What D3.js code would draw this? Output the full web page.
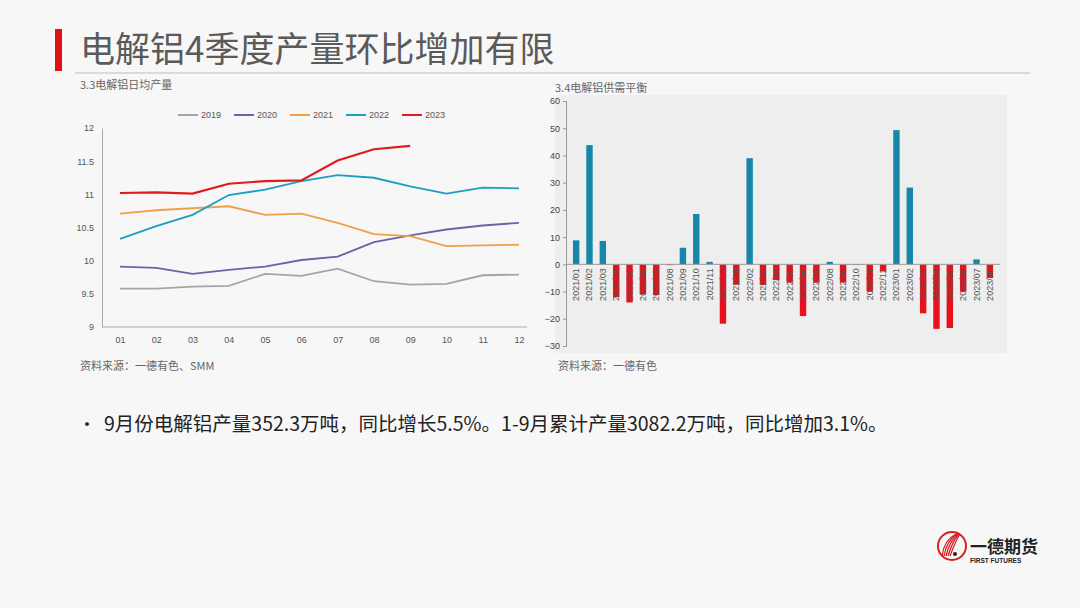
<!DOCTYPE html><html><head><meta charset="utf-8">
<script src="https://cdn.jsdelivr.net/npm/d3@7"></script>
<style>body{margin:0;background:#f7f7f7}svg{display:block;font-family:"Noto Sans CJK SC","Microsoft YaHei",sans-serif}</style></head><body>
<svg id="c" width="1080" height="608"></svg>
<script>
const months=["01","02","03","04","05","06","07","08","09","10","11","12"];
const years=["2019","2020","2021","2022","2023"];
const lineColors=["#a5a5a5","#7060a8","#f0a04b","#1b9ec0","#e01a20"];
const y2019=[9.58,9.58,9.61,9.62,9.80,9.77,9.88,9.69,9.64,9.65,9.78,9.79];
const y2020=[9.91,9.89,9.80,9.86,9.91,10.01,10.06,10.28,10.38,10.47,10.53,10.57];
const y2021=[10.71,10.76,10.79,10.82,10.69,10.71,10.57,10.40,10.37,10.22,10.23,10.24];
const y2022=[10.33,10.52,10.69,10.99,11.07,11.20,11.29,11.25,11.12,11.01,11.10,11.09];
const y2023=[11.02,11.03,11.01,11.16,11.20,11.21,11.51,11.68,11.73];
const lineTicks=[9,9.5,10,10.5,11,11.5,12];
const barCats=["2021/01","2021/02","2021/03","2021/04","2021/05","2021/06","2021/07","2021/08","2021/09","2021/10","2021/11","2021/12",
"2022/01","2022/02","2022/03","2022/04","2022/05","2022/06","2022/07","2022/08","2022/09","2022/10","2022/11","2022/12",
"2023/01","2023/02","2023/03","2023/04","2023/05","2023/06","2023/07","2023/08"];
const barVals=[8.8,43.8,8.6,-12,-14,-11,-11.3,-0.3,6.1,18.5,0.9,-21.8,-7.5,39,-7.6,-5.8,-6.7,-19,-6.7,0.9,-6.7,-0.2,-10,-2.6,49.3,28.2,-18,-23.7,-23.4,-10,1.8,-5];
const barTicks=[-30,-20,-10,0,10,20,30,40,50,60];

const svg=d3.select("#c");
svg.append("rect").attr("x",55).attr("y",29).attr("width",7).attr("height",42).attr("fill","#e0101a");
svg.append("text").attr("x",80).attr("y",62).attr("font-size",35).attr("fill","#5a5a5a").text("电解铝4季度产量环比增加有限");
svg.append("line").attr("x1",75).attr("x2",1030).attr("y1",73).attr("y2",73).attr("stroke","#d0d0d0").attr("stroke-width",1.5);
svg.append("text").attr("x",80).attr("y",89).attr("font-size",11).attr("fill","#666").text("3.3电解铝日均产量");
svg.append("text").attr("x",555).attr("y",92).attr("font-size",11).attr("fill","#666").text("3.4电解铝供需平衡");
svg.append("text").attr("x",80).attr("y",370).attr("font-size",11).attr("fill","#666").text("资料来源：一德有色、SMM");
svg.append("text").attr("x",558).attr("y",370).attr("font-size",11).attr("fill","#666").text("资料来源：一德有色");
svg.append("text").attr("x",78).attr("y",431).attr("font-size",18).attr("fill","#222").text("•");
svg.append("text").attr("x",104).attr("y",431).attr("font-size",19.5).attr("fill","#222").text("9月份电解铝产量352.3万吨，同比增长5.5%。1-9月累计产量3082.2万吨，同比增加3.1%。");

const x=d3.scalePoint().domain(months).range([120,519]);
const y=d3.scaleLinear().domain([9,12]).range([327,128]);
const g=svg.append("g");
g.append("g").attr("transform","translate(0,327)").call(d3.axisBottom(x).tickSize(0).tickPadding(10)).call(a=>{a.select(".domain").attr("d","M102,0H527").attr("stroke","#aaa");});
g.append("g").attr("transform","translate(102,0)").call(d3.axisLeft(y).tickValues(lineTicks).tickSize(0).tickPadding(8).tickFormat(d=>d)).call(a=>a.select(".domain").attr("stroke","#aaa"));
g.selectAll(".tick text").attr("fill","#555").attr("font-size",9).attr("font-family","Liberation Sans,Arial");
[y2019,y2020,y2021,y2022,y2023].forEach((s,i)=>{
 g.append("path").datum(s).attr("fill","none").attr("stroke",lineColors[i]).attr("stroke-width",i==4?2.2:1.8)
  .attr("d",d3.line().x((d,j)=>x(months[j])).y(d=>y(d)));
 const lx=178+i*56;
 g.append("line").attr("x1",lx).attr("x2",lx+20).attr("y1",115).attr("y2",115).attr("stroke",lineColors[i]).attr("stroke-width",2);
 g.append("text").attr("x",lx+23).attr("y",118).attr("font-size",9).attr("fill","#555").attr("font-family","Liberation Sans,Arial").text(years[i]);
});

svg.append("rect").attr("x",555).attr("y",95).attr("width",452).attr("height",258).attr("fill","#eeeeee");
const bx=d3.scaleBand().domain(barCats).range([566,1000]).padding(0.52);
const by=d3.scaleLinear().domain([-30,60]).range([346,101]);
const b=svg.append("g");
b.append("g").attr("transform","translate(566,0)").call(d3.axisLeft(by).tickValues(barTicks).tickSize(3).tickPadding(3))
 .call(a=>{a.selectAll("line,path").attr("stroke","#999");a.selectAll("text").attr("fill","#444").attr("font-size",9).attr("font-family","Liberation Sans,Arial");});
b.selectAll("rect.b").data(barVals).join("rect").attr("x",(d,i)=>bx(barCats[i])).attr("width",bx.bandwidth())
 .attr("y",d=>by(Math.max(0,d))).attr("height",d=>Math.abs(by(d)-by(0))).attr("fill",d=>d>=0?"#1787a8":"#e8101a");
b.append("line").attr("x1",566).attr("x2",1000).attr("y1",by(0)).attr("y2",by(0)).attr("stroke","#999");
b.selectAll("text.l").data(barCats).join("text").attr("font-size",9).attr("fill","#555").attr("font-family","Liberation Sans,Arial")
 .attr("text-anchor","end").attr("transform",(d)=>`translate(${bx(d)+bx.bandwidth()/2+3},${by(0)+4}) rotate(-90)`).text(d=>d);

const lg=svg.append("g").attr("transform","translate(952,546)");
lg.append("circle").attr("r",14).attr("fill","none").attr("stroke","#d42020").attr("stroke-width",2);
for(let i=0;i<5;i++)lg.append("path").attr("d",`M${-10+i*2},10 Q${-8+i*3},-6 ${4+i},-12`).attr("fill","none").attr("stroke","#d42020").attr("stroke-width",1.3);
lg.append("circle").attr("cx",3).attr("cy",8).attr("r",2).attr("fill","#222");
svg.append("text").attr("x",970).attr("y",553).attr("font-size",17).attr("font-weight","bold").attr("fill","#222").text("一德期货");
svg.append("text").attr("x",970).attr("y",563).attr("font-size",6.5).attr("font-weight","bold").attr("fill","#222").attr("font-family","Liberation Sans,Arial").text("FIRST FUTURES");
</script></body></html>
